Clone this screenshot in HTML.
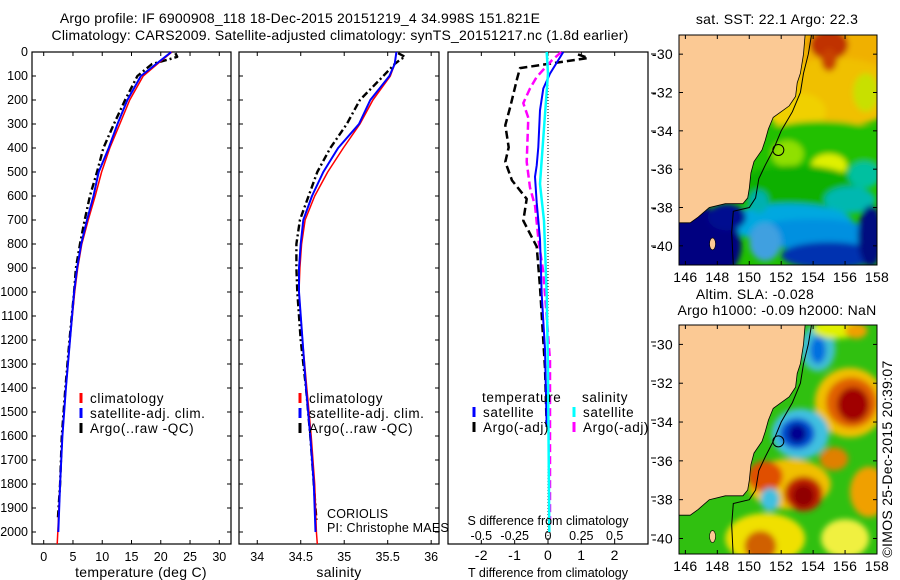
<!DOCTYPE html>
<html><head><meta charset="utf-8">
<style>
html,body{margin:0;padding:0;background:#fff;}
svg{display:block;font-family:"Liberation Sans",sans-serif;}
text{font-size:12.5px;fill:#000;}
.big{font-size:14px;letter-spacing:0.2px;}
.lab{font-size:14px;letter-spacing:0.3px;}
.lab2{font-size:12.5px;}
.leg{font-size:13.5px;letter-spacing:0.6px;}
.note{font-size:12.5px;letter-spacing:0.2px;}
</style></head>
<body>
<svg id="fig" width="900" height="580" viewBox="0 0 900 580" xmlns="http://www.w3.org/2000/svg">
<defs>
<filter id="blur1" x="-10%" y="-10%" width="120%" height="120%"><feGaussianBlur stdDeviation="3"/></filter>
<clipPath id="clipM1"><rect x="679" y="35" width="198" height="230"/></clipPath>
<clipPath id="clipM2"><rect x="679" y="325" width="198" height="229"/></clipPath>
</defs>
<text class="big" x="300" y="23" text-anchor="middle">Argo profile: IF 6900908_118 18-Dec-2015 20151219_4 34.998S 151.821E</text>
<text class="big" x="340" y="40" text-anchor="middle">Climatology: CARS2009. Satellite-adjusted climatology: synTS_20151217.nc (1.8d earlier)</text>
<g id="g1"></g><g id="g2"></g><g id="g3"></g><g id="m1"></g><g id="m2"></g>
</svg>
<script>
// ---------- data ----------
const depthClim=[0,50,100,200,300,400,500,600,700,800,900,1000,1200,1400,1600,1800,2000,2050];
const climT=[21.9,19.4,17,14.7,13,11.3,9.9,8.8,7.6,6.5,5.8,5.3,4.5,3.8,3.2,2.8,2.4,2.3];
const satT=[21.8,19.2,16.6,14.3,12.6,11.1,9.4,8.5,7.4,6.4,5.7,5.2,4.5,3.8,3.2,2.8,2.5,2.5];
const climS=[35.6,35.58,35.53,35.33,35.18,34.99,34.81,34.66,34.55,34.51,34.49,34.48,34.52,34.57,34.62,34.66,34.68,34.69];
const satS=[35.6,35.58,35.52,35.3,35.17,34.93,34.76,34.63,34.53,34.5,34.48,34.48,34.52,34.56,34.61,34.65,34.67,34.67];
const depthArgo=[5,20,30,50,100,200,300,400,500,600,700,800,900,1000,1200,1400,1600,1800,1950];
const argoT=[22.5,22.8,21.5,18.5,16,13.9,12,10.2,9.1,7.9,7,6.2,5.5,5.2,4.4,3.7,3.1,2.8,2.4];
const argoS=[35.62,35.7,35.65,35.58,35.45,35.18,35.03,34.84,34.69,34.59,34.49,34.45,34.45,34.46,34.5,34.56,34.61,34.65,34.68];
const depthDT=[10,25,67,113,228,305,397,458,535,612,703,811,979,1317,1562];
const argoDT=[0.9,1.2,-0.84,-0.93,-1.13,-1.28,-1.18,-1.28,-1.08,-0.64,-0.74,-0.34,-0.24,-0.09,-0.04];
const depthSatDT=[0,90,152,243,397,473,520,627,780,1009,1240,1562];
const satDT=[0.46,0.06,-0.14,-0.24,-0.29,-0.34,-0.39,-0.34,-0.24,-0.19,-0.09,-0.04];
const depthSatDS=[0,90,243,473,550,703,1009,1317,2000];
const satDS=[-0.01,0,-0.02,-0.05,-0.06,-0.03,-0.01,0,0.01];
const depthArgoDS=[0,36,104,152,213,274,458,565,642,780,918,1102,1286,1700,1975];
const argoDS=[0.1,0.027,-0.085,-0.135,-0.185,-0.148,-0.16,-0.135,-0.097,-0.072,-0.035,-0.01,0.015,0.015,0.015];
const depthTicks=[0,100,200,300,400,500,600,700,800,900,1000,1100,1200,1300,1400,1500,1600,1700,1800,1900,2000];
const tTicks=[0,5,10,15,20,25,30];
const sTicks=[34,34.5,35,35.5,36];
const dTTicks=[-2,-1,0,1,2];
const dSTicks=[-0.5,-0.25,0,0.25,0.5];
const lonTicks=[146,148,150,152,154,156,158];
const latTicks=[-30,-32,-34,-36,-38,-40];
const coastLon=[153.5,153.4,153.2,153.0,152.9,152.5,152.0,151.5,151.2,151.0,150.8,150.3,150.1,150.0,149.9,149.6,148.5,147.5,146.8,146.3,145.6];
const coastLat=[-29,-30,-31,-31.5,-32.2,-32.7,-33.0,-33.3,-33.9,-34.5,-35.0,-35.6,-36.2,-37.0,-37.5,-37.8,-37.8,-38.0,-38.5,-38.8,-38.8];
const isoLon=[153.9,153.7,153.4,153.2,152.7,152.0,151.5,151.0,150.6,150.4,150.0,149.0,148.9,149.0];
const isoLat=[-29,-30,-31,-32,-33,-34,-35,-35.8,-36.5,-37.5,-38,-38.2,-39.3,-41];
const argoLon=151.821, argoLat=-34.998;

// ---------- helpers ----------
const NS="http://www.w3.org/2000/svg";
function el(parent,tag,attrs,txt){const e=document.createElementNS(NS,tag);for(const k in attrs)e.setAttribute(k,attrs[k]);if(txt!==undefined)e.textContent=txt;parent.appendChild(e);return e;}
const Y0=52, YB=544, DMAX=2050;
const yD=d=>Y0+d*(YB-Y0)/DMAX;
function lin(d0,d1,p0,p1){return v=>p0+(v-d0)*(p1-p0)/(d1-d0);}
function line(g,xs,ds,fx,stroke,w,dash,name){
  const pts=xs.map((v,i)=>fx(v).toFixed(1)+","+yD(ds[i]).toFixed(1)).join(" ");
  const p=el(g,"polyline",{points:pts,fill:"none",stroke:stroke,"stroke-width":w,"stroke-dasharray":dash||"none","stroke-linejoin":"round"});
  
  
}
function frame(g,x0,x1,labels,name){
  const r=el(g,"rect",{x:x0,y:Y0,width:x1-x0,height:YB-Y0,fill:"none",stroke:"#000","stroke-width":1.2});
  
  
  depthTicks.forEach(d=>{
    el(g,"line",{x1:x0,x2:x0+4,y1:yD(d),y2:yD(d),stroke:"#000"});
    el(g,"line",{x1:x1-4,x2:x1,y1:yD(d),y2:yD(d),stroke:"#000"});
    if(labels){const t=el(g,"text",{x:x0-4,y:yD(d)+4,"text-anchor":"end"},String(d));
      
      }
  });
}
function xticks(g,ticks,fx,y,name){
  ticks.forEach(v=>{
    el(g,"line",{x1:fx(v),x2:fx(v),y1:YB,y2:YB-4,stroke:"#000"});
    el(g,"line",{x1:fx(v),x2:fx(v),y1:Y0,y2:Y0+4,stroke:"#000"});
    const t=el(g,"text",{x:fx(v),y:y,"text-anchor":"middle"},String(v));
    
    
  });
}
function legend(g,x,y,items){
  items.forEach((it,i)=>{
    const yy=y+i*15;
    if(it.c) el(g,"line",{x1:x,x2:x,y1:yy-10,y2:yy,stroke:it.c,"stroke-width":3});
    const t=el(g,"text",{x:x+(it.c?9:8),y:yy,"class":"leg"},it.t);
    
    
  });
}

// ---------- panel 1: temperature ----------
const g1=document.getElementById("g1");
const fxT=lin(-2,32,32,231);
frame(g1,32,231,true,"temperature-panel");
xticks(g1,tTicks,fxT,561,"temperature-tick-label");
line(g1,argoT,depthArgo,fxT,"#000",2.4,"7,3,2,3","argo-temperature-line");
line(g1,climT,depthClim,fxT,"#f00",1.5,null,"climatology-temperature-line");
line(g1,satT,depthClim.slice(0,17),fxT,"#00f",2,null,"satellite-temperature-line");
legend(g1,81,403,[{c:"#f00",t:"climatology"},{c:"#00f",t:"satellite-adj. clim."},{c:"#000",t:"Argo(..raw -QC)"}]);
{const t=el(g1,"text",{x:141,y:577,"text-anchor":"middle","class":"lab"},"temperature (deg C)");}

// ---------- panel 2: salinity ----------
const g2=document.getElementById("g2");
const fxS=lin(33.79,36.09,239,439);
frame(g2,239,439,false,"salinity-panel");
xticks(g2,sTicks,fxS,561,"salinity-tick-label");
line(g2,argoS,depthArgo,fxS,"#000",2.4,"7,3,2,3","argo-salinity-line");
line(g2,climS,depthClim,fxS,"#f00",1.5,null,"climatology-salinity-line");
line(g2,satS,depthClim.slice(0,17),fxS,"#00f",2,null,"satellite-salinity-line");
legend(g2,300,403,[{c:"#f00",t:"climatology"},{c:"#00f",t:"satellite-adj. clim."},{c:"#000",t:"Argo(..raw -QC)"}]);
{const t=el(g2,"text",{x:327,y:518,"class":"note"},"CORIOLIS");}
{const t=el(g2,"text",{x:327,y:532,"class":"note"},"PI: Christophe MAES");}
{const t=el(g2,"text",{x:339,y:577,"text-anchor":"middle","class":"lab"},"salinity");}

// ---------- panel 3: differences ----------
const g3=document.getElementById("g3");
const fxDT=lin(-3,3,448,648), fxDS=lin(-0.75,0.75,448,648);
{const r=el(g3,"rect",{x:448,y:Y0,width:200,height:YB-Y0,fill:"none",stroke:"#000","stroke-width":1.2});}
[54,93,131,170,208,246,342,381,420,458,497,535].forEach(y=>el(g3,"line",{x1:651,x2:656,y1:y,y2:y,stroke:"#000"}));
dTTicks.forEach(v=>{el(g3,"line",{x1:fxDT(v),x2:fxDT(v),y1:YB,y2:YB-4,stroke:"#000"});el(g3,"line",{x1:fxDT(v),x2:fxDT(v),y1:Y0,y2:Y0+4,stroke:"#000"});
  const t=el(g3,"text",{x:fxDT(v),y:560,"text-anchor":"middle","class":"lab"},String(v));});
dSTicks.forEach(v=>{const t=el(g3,"text",{x:fxDS(v),y:540,"text-anchor":"middle","class":"lab2"},String(v));});
el(g3,"line",{x1:fxDT(0),x2:fxDT(0),y1:Y0,y2:YB,stroke:"#000","stroke-width":1,"stroke-dasharray":"1,2"});
line(g3,argoDT,depthDT,fxDT,"#000",2.5,"8,4","argo-t-diff-line");
line(g3,argoDS,depthArgoDS,fxDS,"#f0f",2.5,"8,4","argo-s-diff-line");
line(g3,satDT,depthSatDT,fxDT,"#00f",2,null,"satellite-t-diff-line");
line(g3,satDS,depthSatDS,fxDS,"#0ff",2.5,null,"satellite-s-diff-line");
legend(g3,474,402,[{t:"temperature"},{c:"#00f",t:"satellite"},{c:"#000",t:"Argo(-adj)"}]);
legend(g3,574,402,[{t:"salinity"},{c:"#0ff",t:"satellite"},{c:"#f0f",t:"Argo(-adj)"}]);
{const t=el(g3,"text",{x:548,y:525,"text-anchor":"middle","class":"lab2"},"S difference from climatology");}
{const t=el(g3,"text",{x:548,y:577,"text-anchor":"middle","class":"lab2"},"T difference from climatology");}

// ---------- maps ----------
function makeMap(gid,top,h,latMin,clip,blobs,base,name){
  const g=document.getElementById(gid);
  const mx=lin(145.6,158,679,877), my=lin(-29,latMin,top,top+h);
  const inner=el(g,"g",{"clip-path":"url(#"+clip+")"});
  el(inner,"rect",{x:679,y:top,width:198,height:h,fill:base});
  const bg=el(inner,"g",{filter:"url(#blur1)"});
  blobs.forEach(b=>{el(bg,"ellipse",{cx:mx(b[0]),cy:my(b[1]),rx:b[2]*198/12.4,ry:b[3]*h/(-29-latMin),fill:b[4]});});
  const land=coastLon.map((v,i)=>mx(v).toFixed(1)+","+my(coastLat[i]).toFixed(1)).join(" ")+" "+mx(145.6)+","+my(-29);
  const lp=el(inner,"polygon",{points:land,fill:"#fbc994",stroke:"#000","stroke-width":0.8});
  
  
  el(inner,"ellipse",{cx:mx(147.7),cy:my(-39.9),rx:3,ry:6,fill:"#fbc994",stroke:"#000","stroke-width":0.6});
  const iso=isoLon.map((v,i)=>mx(v).toFixed(1)+","+my(isoLat[i]).toFixed(1)).join(" ");
  el(inner,"polyline",{points:iso,fill:"none",stroke:"#000","stroke-width":1});
  const c=el(g,"circle",{cx:mx(argoLon),cy:my(argoLat),r:5.5,fill:"none",stroke:"#000","stroke-width":1});
  
  
  const fr=el(g,"rect",{x:679,y:top,width:198,height:h,fill:"none",stroke:"#000","stroke-width":1});
  
  
  lonTicks.forEach(v=>{el(g,"line",{x1:mx(v),x2:mx(v),y1:top,y2:top+4,stroke:"#000"});el(g,"line",{x1:mx(v),x2:mx(v),y1:top+h,y2:top+h-4,stroke:"#000"});
    const t=el(g,"text",{x:mx(v),y:top+h+17,"text-anchor":"middle","class":"lab"},String(v));});
  latTicks.forEach(v=>{el(g,"line",{x1:679,x2:683,y1:my(v),y2:my(v),stroke:"#000"});el(g,"line",{x1:873,x2:877,y1:my(v),y2:my(v),stroke:"#000"});
    const t=el(g,"text",{x:673,y:my(v)+5,"text-anchor":"end","class":"lab"},String(v));});
}
// SST blobs: lon, lat, rx(deg), ry(deg), colour
const sstBlobs=[
 [156,-30,4.5,2.8,"#f0b000"],[155.5,-32,4,1.8,"#f0c000"],[153,-33,1.8,1.0,"#f0d000"],
 [155,-29.5,1.2,0.8,"#c03000"],[155,-30.3,0.5,0.6,"#c84000"],[157.3,-32,0.8,1.0,"#c8e000"],
 [154.5,-35,5,1.5,"#20c000"],[155,-35.8,1.1,0.6,"#e0f000"],[152.4,-35.2,1.0,0.7,"#90e000"],
 [153,-37,4,1.2,"#10b000"],[157.2,-36.3,1,0.7,"#00c0a0"],[156.3,-37.6,1.6,0.7,"#00b8b0"],
 [152.5,-38.8,4,1,"#00a8e0"],[154,-39.4,4,0.8,"#0090e0"],[155,-40.5,3,0.7,"#0030b0"],
 [157.6,-39.5,0.8,1.6,"#001080"],[147,-40,2.5,2,"#000080"],[148.6,-38.5,1.2,0.7,"#000a90"],
 [150.6,-37.7,0.6,0.6,"#00b0b0"],[151,-39.8,1,1,"#40a0e0"]];
makeMap("m1",35,230,-41,"clipM1",sstBlobs,"#20c000","sst-map");
{const t=el(document.getElementById("m1"),"text",{x:777,y:24,"text-anchor":"middle","class":"lab"},"sat. SST: 22.1 Argo: 22.3");}
const slaBlobs=[
 [154.3,-30.2,1.1,1.2,"#40c0d0"],[154.3,-30.3,0.5,0.7,"#0070e0"],
 [156.3,-33,2.2,1.8,"#f0c000"],[156.4,-33,1.6,1.3,"#e06000"],[156.5,-33.1,1,0.9,"#a00000"],
 [153.2,-34.6,1.8,1.3,"#40c0e0"],[153,-34.6,1.1,0.8,"#0050d0"],[153,-34.6,0.6,0.5,"#000090"],
 [152.5,-37.2,2.6,1.3,"#f0c000"],[151,-36.8,1.1,0.8,"#e05000"],[153.4,-37.7,1.2,0.9,"#c02000"],[153.4,-37.8,0.7,0.6,"#900000"],
 [155.3,-35.9,0.9,0.6,"#e08000"],[157.5,-37.6,1.2,1.3,"#f0a000"],[151.3,-38,0.6,0.6,"#40c0e0"],
 [151,-40,2.5,1.3,"#f0e000"],[150.7,-40.4,1,0.8,"#d06000"],[156,-40,1.5,1,"#f0f040"],
 [155.5,-29.2,1.5,0.5,"#e0f000"],[156.7,-29.3,0.7,0.4,"#f0a000"]];
makeMap("m2",325,229,-40.8,"clipM2",slaBlobs,"#30c010","sla-map");
{const t=el(document.getElementById("m2"),"text",{x:755,y:299,"text-anchor":"middle","class":"lab"},"Altim. SLA: -0.028");}
{const t=el(document.getElementById("m2"),"text",{x:777,y:315,"text-anchor":"middle","class":"lab"},"Argo h1000: -0.09 h2000: NaN");}
{const t=el(document.getElementById("m2"),"text",{x:892,y:459,"text-anchor":"middle",transform:"rotate(-90 892 459)","class":"lab"},"©IMOS 25-Dec-2015 20:39:07");}
</script>
</body></html>
